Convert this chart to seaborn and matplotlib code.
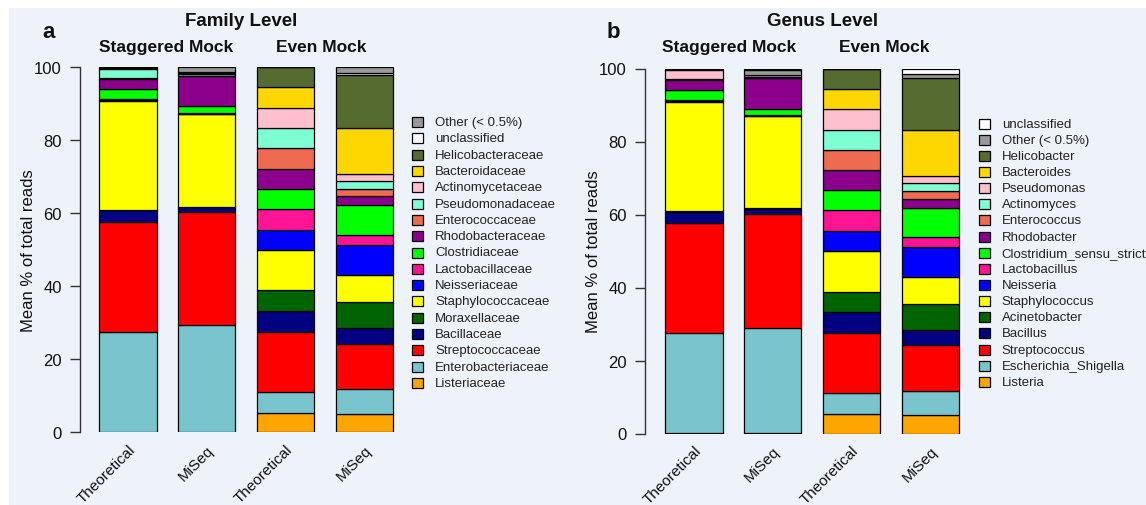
import numpy as np
import pandas as pd
import matplotlib
matplotlib.use("Agg")
import matplotlib.pyplot as plt
import seaborn as sns
from matplotlib.patches import Rectangle

# ---------------- data ----------------
samples = ["Theoretical", "MiSeq", "Theoretical", "MiSeq"]
mock_groups = ["Staggered Mock", "Even Mock"]

# taxa listed bottom -> top of each stacked bar
family_taxa = ["Listeriaceae", "Enterobacteriaceae", "Streptococcaceae", "Bacillaceae",
               "Moraxellaceae", "Staphylococcaceae", "Neisseriaceae", "Lactobacillaceae",
               "Clostridiaceae", "Rhodobacteraceae", "Enterococcaceae", "Pseudomonadaceae",
               "Actinomycetaceae", "Bacteroidaceae", "Helicobacteraceae", "unclassified",
               "Other (< 0.5%)"]
fam_stag_theo = [0.2, 27.3, 30.2, 3.1, 0.1, 29.9, 0.3, 0.3, 2.6, 2.9, 0.1, 2.5, 0.2, 0.1, 0.2, 0.0, 0.0]
fam_stag_miseq = [0.1, 29.2, 31.0, 1.4, 0.1, 25.3, 0.2, 0.2, 1.8, 8.2, 0.1, 0.5, 0.1, 0.1, 0.1, 0.4, 1.2]
fam_even_theo = [5.3, 5.7, 16.6, 5.7, 5.6, 11.0, 5.6, 5.6, 5.5, 5.6, 5.6, 5.6, 5.5, 5.6, 5.5, 0.0, 0.0]
fam_even_miseq = [5.0, 6.9, 12.3, 4.3, 7.1, 7.5, 8.1, 2.9, 8.2, 2.4, 2.0, 2.1, 2.0, 12.6, 14.4, 0.7, 1.5]

genus_taxa = ["Listeria", "Escherichia_Shigella", "Streptococcus", "Bacillus",
              "Acinetobacter", "Staphylococcus", "Neisseria", "Lactobacillus",
              "Clostridium_sensu_stricto", "Rhodobacter", "Enterococcus", "Actinomyces",
              "Pseudomonas", "Bacteroides", "Helicobacter", "Other (< 0.5%)",
              "unclassified"]
gen_stag_theo = [0.2, 27.3, 30.1, 3.2, 0.1, 29.9, 0.3, 0.3, 2.6, 2.9, 0.1, 0.1, 2.5, 0.2, 0.2, 0.0, 0.0]
gen_stag_miseq = [0.1, 28.9, 31.1, 1.5, 0.1, 25.2, 0.2, 0.2, 1.7, 8.5, 0.1, 0.1, 0.4, 0.1, 0.1, 1.2, 0.5]
gen_even_theo = [5.3, 5.7, 16.6, 5.6, 5.6, 11.2, 5.5, 5.6, 5.5, 5.6, 5.5, 5.5, 5.6, 5.5, 5.7, 0.0, 0.0]
gen_even_miseq = [5.0, 6.7, 12.5, 4.1, 7.3, 7.3, 8.1, 2.9, 8.0, 2.3, 2.3, 2.0, 2.0, 12.6, 14.4, 0.9, 1.6]

base_colors = ["#FFA500", "#7AC5CD", "#FF0000", "#000080", "#006400", "#FFFF00",
               "#0000FF", "#FF1493", "#00FF00", "#8B008B", "#EE6A50", "#7FFFD4",
               "#FFC0CB", "#FFD700", "#556B2F"]
family_colors = base_colors + ["#FFFFFF", "#999999"]
genus_colors = base_colors + ["#999999", "#FFFFFF"]

# ---------------- style ----------------
W, H = 1146, 506
BG = "#EEF2F9"
sns.set_theme(style="white")
plt.rcParams["font.family"] = ["Liberation Sans", "DejaVu Sans"]

fig = plt.figure(figsize=(W / 100, H / 100), dpi=100, facecolor="white")
fig.patches.append(Rectangle((9 / W, 0.5 / H), (W - 9) / W, (H - 9) / H,
                             transform=fig.transFigure, facecolor=BG,
                             edgecolor="none", zorder=-10))


def fx(px):
    return px / W


def fy(py):
    return 1 - py / H


def panel(axis_px, right_px, top_px, bot_px, center0_px, spacing_px,
          taxa, colors, bars, letter, letter_x, title, title_x,
          sub_x, ylabel_right_px, legend_box_x, legend_text_x, legend_y0, legend_pitch):
    ax = fig.add_axes([fx(axis_px), fy(bot_px), (right_px - axis_px) / W, (bot_px - top_px) / H])
    ax.patch.set_visible(False)
    rows = []
    for i, vals in enumerate(bars):
        for t, v in zip(taxa, vals):
            rows.append({"pos": i, "taxon": t, "value": v})
    df = pd.DataFrame(rows)
    legend_order = taxa[::-1]
    pal = dict(zip(taxa, colors))
    sns.histplot(data=df, x="pos", weights="value", hue="taxon", hue_order=legend_order,
                 multiple="stack", discrete=True, shrink=0.73, palette=pal,
                 edgecolor="black", linewidth=0.9, alpha=1, legend=False, ax=ax)
    xl = (axis_px - center0_px) / spacing_px
    xr = (right_px - center0_px) / spacing_px
    ax.set_xlim(xl, xr)
    ax.set_ylim(0, 100)
    for s in ["top", "right", "bottom"]:
        ax.spines[s].set_visible(False)
    ax.spines["left"].set_bounds(0, 100)
    ax.spines["left"].set_color("#333333")
    ax.spines["left"].set_linewidth(1.0)
    ax.set_yticks([0, 20, 40, 60, 80, 100])
    ax.set_yticklabels(["0", "20", "40", "60", "80", "100"])
    ax.tick_params(axis="y", left=True, length=7.2, width=1.0, color="#333333",
                   pad=6, labelsize=12, labelcolor="#111111")
    ax.set_xticks(range(len(samples)))
    ax.set_xticklabels(samples, rotation=45, ha="right", va="top",
                       rotation_mode="anchor", fontsize=11, color="#111111")
    ax.tick_params(axis="x", bottom=False, pad=1)
    ax.set_xlabel("")
    ax.set_ylabel("Mean % of total reads", fontsize=12, color="#111111")
    ax.yaxis.set_label_coords((ylabel_right_px - axis_px) / (right_px - axis_px), 0.5)

    fig.text(fx(letter_x), fy(38.3), letter, fontsize=16, fontweight="bold",
             ha="left", va="baseline", color="#111111")
    fig.text(fx(title_x), fy(25.5), title, fontsize=13.5, fontweight="bold",
             ha="center", va="baseline", color="#111111")
    for g, sx in zip(mock_groups, sub_x):
        fig.text(fx(sx), fy(52), g, fontsize=12.5, fontweight="bold",
                 ha="center", va="baseline", color="#111111")

    for k, t in enumerate(legend_order):
        yc = legend_y0 + k * legend_pitch
        fig.patches.append(Rectangle((fx(legend_box_x), fy(yc + 5)), 11 / W, 10 / H,
                                     transform=fig.transFigure, facecolor=pal[t],
                                     edgecolor="black", linewidth=0.9))
        fig.text(fx(legend_text_x), fy(yc), t, fontsize=9.5, ha="left", va="center",
                 color="#222222")
    return ax


panel(80, 410, 68.3, 433.3, 127.8, 78.9, family_taxa, family_colors,
      [fam_stag_theo, fam_stag_miseq, fam_even_theo, fam_even_miseq],
      "a", 42.5, "Family Level", 240.8, [165.8, 321.3], 36,
      411.7, 435, 123.1, 16.3)

panel(645, 975, 69.5, 434.5, 693.8, 78.9, genus_taxa, genus_colors,
      [gen_stag_theo, gen_stag_miseq, gen_even_theo, gen_even_miseq],
      "b", 607, "Genus Level", 822.5, [729.5, 884.5], 601,
      979, 1001.7, 124.5, 16.15)

fig.savefig("out.png", dpi=100, facecolor="white")
